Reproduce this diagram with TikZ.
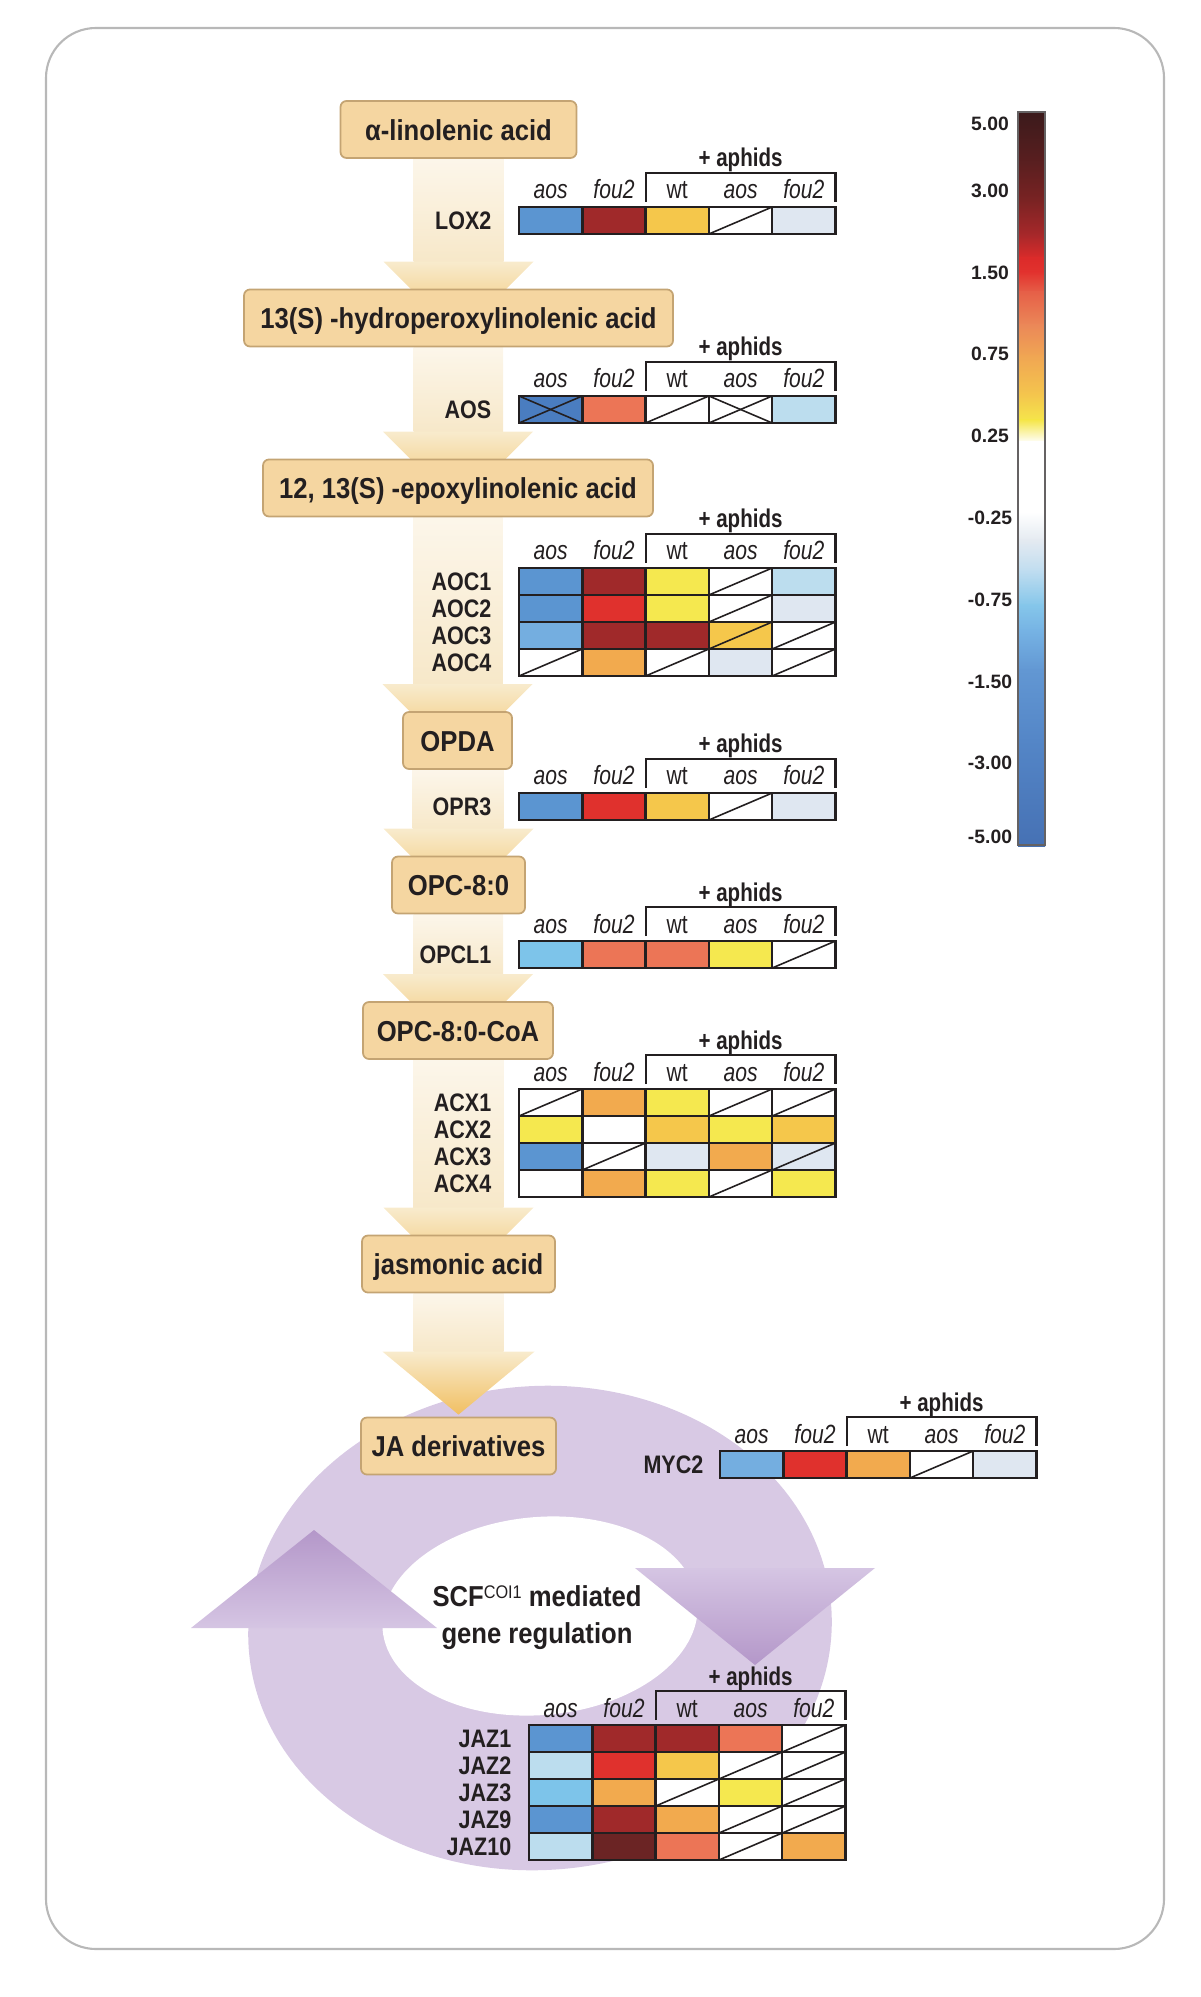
\documentclass[tikz,border=0pt]{standalone}
\usepackage{fontspec}
\setmainfont{Liberation Sans}[FakeStretch=0.89]
\newfontfamily\barfont{Liberation Sans}
\newfontfamily\headfont{Liberation Sans}[FakeStretch=0.8]
\newfontfamily\genefont{Liberation Sans}[FakeStretch=0.85]
\usetikzlibrary{backgrounds}

\definecolor{ink}{HTML}{231F20}
\definecolor{framegray}{HTML}{B8B8B8}
\definecolor{boxfill}{HTML}{F5D6A1}
\definecolor{boxline}{HTML}{C4A473}
\definecolor{shaftlight}{HTML}{FCF6EA}
\definecolor{shaftdark}{HTML}{F7E8C9}
\definecolor{headlight}{HTML}{F8EBCD}
\definecolor{headdark}{HTML}{F1BF62}
\definecolor{ringfill}{HTML}{D8C9E4}
\definecolor{lilaclight}{HTML}{D5C5E3}
\definecolor{lilacdark}{HTML}{B497C9}
% heat map colours
\definecolor{hmB1}{HTML}{4A7DC0}
\definecolor{hmB2}{HTML}{5B95D1}
\definecolor{hmB3}{HTML}{74AEE0}
\definecolor{hmB4}{HTML}{7DC4EA}
\definecolor{hmB5}{HTML}{BCDDEE}
\definecolor{hmB6}{HTML}{DFE7F1}
\definecolor{hmR0}{HTML}{6B2424}
\definecolor{hmR1}{HTML}{A0292A}
\definecolor{hmR2}{HTML}{E0312D}
\definecolor{hmR3}{HTML}{EC7556}
\definecolor{hmO}{HTML}{F2AA4E}
\definecolor{hmY1}{HTML}{F5C74B}
\definecolor{hmY2}{HTML}{F5E84F}
% colour scale stops
\definecolor{cs0}{HTML}{3B1A1B}
\definecolor{cs1}{HTML}{5C1F20}
\definecolor{cs2}{HTML}{7A2323}
\definecolor{cs3}{HTML}{A8282A}
\definecolor{cs4}{HTML}{DC2B2A}
\definecolor{cs5}{HTML}{E2322E}
\definecolor{cs6}{HTML}{E66048}
\definecolor{cs7}{HTML}{EB8858}
\definecolor{cs8}{HTML}{F0A653}
\definecolor{cs9}{HTML}{F4C64D}
\definecolor{cs10}{HTML}{F5E64B}
\definecolor{cs11}{HTML}{FFFFFF}
\definecolor{cs12}{HTML}{FFFFFF}
\definecolor{cs13}{HTML}{E4EAF1}
\definecolor{cs14}{HTML}{C0DDF0}
\definecolor{cs15}{HTML}{85C6EA}
\definecolor{cs16}{HTML}{76B3E4}
\definecolor{cs17}{HTML}{6297D3}
\definecolor{cs18}{HTML}{5486C7}
\definecolor{cs19}{HTML}{4671B4}

% column heads of one heat map: name, left x, top y
\newcommand{\hmhead}[3]{%
  \node[colhead] (#1-c1) at ({#2+31.65},{#3-8}) {\itshape aos};
  \node[colhead] (#1-c2) at ({#2+94.95},{#3-8}) {\itshape fou2};
  \node[colhead] (#1-c3) at ({#2+158.25},{#3-8}) {wt};
  \node[colhead] (#1-c4) at ({#2+221.55},{#3-8}) {\itshape aos};
  \node[colhead] (#1-c5) at ({#2+284.85},{#3-8}) {\itshape fou2};
  \draw[aphbracket] ({#2+126.6},{#3-5}) |- ({#2+316.5},{#3-34}) -- ({#2+316.5},{#3-5});
  \node[aphid] (#1-aph) at ({#2+221.55},{#3-40}) {+ aphids};
}
% one row of cells: left x, top y, colour/mark (0 none, 1 slash, 2 cross)
\newcommand{\hmrow}[3]{%
  \foreach \hc/\hf [count=\hi from 0] in {#3} {
    \filldraw[cell, fill=\hc] ({#1+\hi*63.3},#2) rectangle ++(63.3,27);
    \ifnum\hf>0 \draw[cellmark] ({#1+\hi*63.3},{#2+27}) -- ++(63.3,-27); \fi
    \ifnum\hf>1 \draw[cellmark] ({#1+\hi*63.3},#2) -- ++(63.3,27); \fi
  }}
% block arrow between two pathway boxes
\newcommand{\flowstep}[2]{%
  \shade[top color=shaftlight, bottom color=shaftdark] ([xshift=-4.5mm]#1.south) rectangle ([xshift=4.5mm,yshift=2.7mm]#2.north);
  \shade[top color=headlight, bottom color=headdark] ([xshift=-7.5mm,yshift=2.7mm]#2.north) -- ([xshift=7.5mm,yshift=2.7mm]#2.north) -- ([yshift=-4.8mm]#2.north) -- cycle;
}

\begin{document}
\begin{tikzpicture}[x=0.1mm, y=-0.1mm,
  pathbox/.style={draw=boxline, fill=boxfill, rounded corners=0.6mm, line width=0.5pt,
    minimum height=5.7mm, inner sep=0pt, text height=6pt, text depth=0pt,
    font=\fontsize{8.2}{9}\selectfont\bfseries, text=ink},
  gene/.style={anchor=east, inner sep=0pt, font=\genefont\fontsize{7.2}{7.5}\selectfont\bfseries, text=ink},
  colhead/.style={anchor=base, inner sep=0pt, font=\headfont\fontsize{7.5}{8}\selectfont, text=ink},
  aphid/.style={anchor=base, inner sep=0pt, font=\headfont\fontsize{7.3}{8}\selectfont\bfseries, text=ink},
  aphbracket/.style={draw=ink, line width=0.6pt},
  cell/.style={draw=ink, line width=0.7pt},
  cellmark/.style={draw=ink, line width=0.45pt},
  cycletext/.style={inner sep=0pt, text height=6pt, text depth=0pt,
    font=\fontsize{8.2}{9}\selectfont\bfseries, text=ink},
  scalelabel/.style={inner sep=0pt, font=\barfont\fontsize{5.5}{6}\selectfont\bfseries, text=ink}]
\useasboundingbox (0,0) rectangle (1200,1997);
% frame
\draw[framegray, line width=0.6pt, rounded corners=5mm] (46,28) rectangle (1164,1949);

% pathway boxes
\node[pathbox, minimum width=23.6mm] (ala) at (458.5,129.5) {α-linolenic acid};
\node[pathbox, minimum width=42.9mm] (hpot) at (458.5,318) {13(S) -hydroperoxylinolenic acid};
\node[pathbox, minimum width=39mm] (eot) at (458,488) {12, 13(S) -epoxylinolenic acid};
\node[pathbox, minimum width=10.9mm] (opda) at (457.5,740.5) {OPDA};
\node[pathbox, minimum width=13.3mm] (opc) at (458.5,885) {OPC-8:0};
\node[pathbox, minimum width=19mm] (opccoa) at (458,1030.5) {OPC-8:0-CoA};
\node[pathbox, minimum width=19.3mm] (ja) at (458.5,1264) {jasmonic acid};
\node[pathbox, minimum width=19.5mm] (jader) at (458.5,1446) {JA derivatives};

\begin{scope}[on background layer]
% purple cycle
\fill[ringfill, rotate around={4:(540,1628)}] (540,1628) ellipse [x radius=29.2mm, y radius=24.2mm];
\fill[white, rotate around={5:(540,1616)}] (540,1616) ellipse [x radius=15.8mm, y radius=9.9mm];
\shade[top color=lilacdark, bottom color=lilaclight] (314,1530) -- (437,1628) -- (191,1628) -- cycle;
\shade[top color=lilaclight, bottom color=lilacdark] (635,1568) -- (875,1568) -- (755,1665) -- cycle;
% flow arrows
\flowstep{ala}{hpot}
\flowstep{hpot}{eot}
\flowstep{eot}{opda}
\flowstep{opda}{opc}
\flowstep{opc}{opccoa}
\flowstep{opccoa}{ja}
\shade[top color=shaftlight, bottom color=shaftdark] ([xshift=-4.5mm]ja.south) rectangle ([xshift=4.5mm,yshift=6.5mm]jader.north);
\shade[top color=headlight, bottom color=headdark] ([xshift=-7.6mm,yshift=6.5mm]jader.north) -- ([xshift=7.6mm,yshift=6.5mm]jader.north) -- ([yshift=0.2mm]jader.north) -- cycle;
\end{scope}

% LOX2
\hmhead{hlox}{519}{207}
\hmrow{519}{207}{hmB2/0, hmR1/0, hmY1/0, white/1, hmB6/0}
\node[gene] (lox2) at (492,220.5) {LOX2};
% AOS
\hmhead{haos}{519}{396}
\hmrow{519}{396}{hmB1/2, hmR3/0, white/1, white/2, hmB5/0}
\node[gene] (aosg) at (492,409.5) {AOS};
% AOC
\hmhead{haoc}{519}{568}
\hmrow{519}{568}{hmB2/0, hmR1/0, hmY2/0, white/1, hmB5/0}
\hmrow{519}{595}{hmB2/0, hmR2/0, hmY2/0, white/1, hmB6/0}
\hmrow{519}{622}{hmB3/0, hmR1/0, hmR1/0, hmY1/1, white/1}
\hmrow{519}{649}{white/1, hmO/0, white/1, hmB6/0, white/1}
\node[gene] (aoc1) at (492,581.5) {AOC1};
\node[gene] (aoc2) at (492,608.5) {AOC2};
\node[gene] (aoc3) at (492,635.5) {AOC3};
\node[gene] (aoc4) at (492,662.5) {AOC4};
% OPR3
\hmhead{hopr}{519}{793}
\hmrow{519}{793}{hmB2/0, hmR2/0, hmY1/0, white/1, hmB6/0}
\node[gene] (opr3) at (492,806.5) {OPR3};
% OPCL1
\hmhead{hopcl}{519}{941}
\hmrow{519}{941}{hmB4/0, hmR3/0, hmR3/0, hmY2/0, white/1}
\node[gene] (opcl1) at (492,954.5) {OPCL1};
% ACX
\hmhead{hacx}{519}{1089}
\hmrow{519}{1089}{white/1, hmO/0, hmY2/0, white/1, white/1}
\hmrow{519}{1116}{hmY2/0, white/0, hmY1/0, hmY2/0, hmY1/0}
\hmrow{519}{1143}{hmB2/0, white/1, hmB6/0, hmO/0, hmB6/1}
\hmrow{519}{1170}{white/0, hmO/0, hmY2/0, white/1, hmY2/0}
\node[gene] (acx1) at (492,1102.5) {ACX1};
\node[gene] (acx2) at (492,1129.5) {ACX2};
\node[gene] (acx3) at (492,1156.5) {ACX3};
\node[gene] (acx4) at (492,1183.5) {ACX4};
% MYC2
\hmhead{hmyc}{720}{1451}
\hmrow{720}{1451}{hmB3/0, hmR2/0, hmO/0, white/1, hmB6/0}
\node[gene] (myc2) at (704,1464.5) {MYC2};
% JAZ
\hmhead{hjaz}{529}{1725}
\hmrow{529}{1725}{hmB2/0, hmR1/0, hmR1/0, hmR3/0, white/1}
\hmrow{529}{1752}{hmB5/0, hmR2/0, hmY1/0, white/1, white/1}
\hmrow{529}{1779}{hmB4/0, hmO/0, white/1, hmY2/0, white/1}
\hmrow{529}{1806}{hmB2/0, hmR1/0, hmO/0, white/1, white/1}
\hmrow{529}{1833}{hmB5/0, hmR0/0, hmR3/0, white/1, hmO/0}
\node[gene] (jaz1) at (512,1738.5) {JAZ1};
\node[gene] (jaz2) at (512,1765.5) {JAZ2};
\node[gene] (jaz3) at (512,1792.5) {JAZ3};
\node[gene] (jaz9) at (512,1819.5) {JAZ9};
\node[gene] (jaz10) at (512,1846.5) {JAZ10};

% cycle text
\node[cycletext] (scf) at (537,1596) {SCF\raisebox{2.4pt}{\fontsize{5.2}{5}\selectfont\mdseries COI1} mediated};
\node[cycletext] (genereg) at (537,1633) {gene regulation};

% colour scale
\foreach \ya/\ca/\yb/\cb in {112/cs0/165/cs1, 165/cs1/200/cs2, 200/cs2/235/cs3, 235/cs3/258/cs4,
    258/cs4/272/cs5, 272/cs5/292/cs6, 292/cs6/325/cs7, 325/cs7/356/cs8, 356/cs8/395/cs9,
    395/cs9/420/cs10, 420/cs10/442/cs11, 442/cs11/512/cs12, 512/cs12/540/cs13, 540/cs13/570/cs14,
    570/cs14/605/cs15, 605/cs15/630/cs16, 630/cs16/670/cs17, 670/cs17/740/cs18, 740/cs18/845/cs19}
  \shade[top color=\ca, bottom color=\cb] (1018,\ya) rectangle (1045,{\yb+1});
\draw[ink!70, line width=0.3pt] (1018,112) rectangle (1045,845);
\foreach \v/\y [count=\k] in {5.00/124, 3.00/191, 1.50/273, 0.75/354, 0.25/436,
    -0.25/518, -0.75/600, -1.50/682, -3.00/763, -5.00/837}
  \node[scalelabel] (sc\k) at (990,\y) {\v};
\end{tikzpicture}
\end{document}
